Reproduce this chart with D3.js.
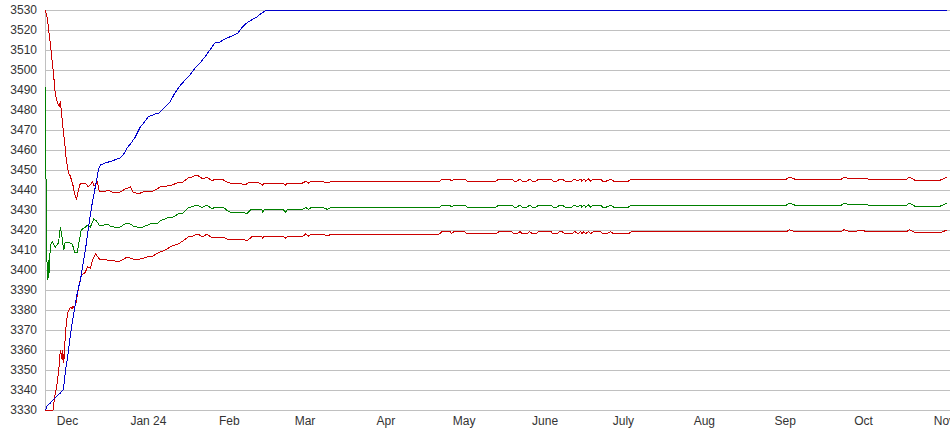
<!DOCTYPE html>
<html><head><meta charset="utf-8">
<script src="https://cdn.jsdelivr.net/npm/d3@7"></script>
<style>
body{margin:0;background:#fff}
svg{display:block}
text{font-family:Arial,"Liberation Sans",sans-serif;font-size:12px;fill:#333}
</style>
</head><body>
<svg id="chart" width="950" height="435"></svg>
<script>
// ---- data ----
const originDate = new Date(2023, 10, 22, 18); // day 0 of the series
const yTicks = [3330,3340,3350,3360,3370,3380,3390,3400,3410,3420,3430,3440,3450,3460,3470,3480,3490,3500,3510,3520,3530];
const monthLabels = ["Dec","Jan 24","Feb","Mar","Apr","May","June","July","Aug","Sep","Oct","Nov"];
const monthDates = ["2023-12-01","2024-01-01","2024-02-01","2024-03-01","2024-04-01","2024-05-01","2024-06-01","2024-07-01","2024-08-01","2024-09-01","2024-10-01","2024-11-01"];

// [day since origin, value]
const blueSeries = [[0,3330],[0.6,3332],[1.9,3333.5],[3.2,3335.5],[4.5,3337],[5.7,3338.5],[6.8,3340],[7.3,3345],[7.7,3350],[8.5,3356.5],[9.3,3365],[10.2,3373.5],[11.1,3380],[11.8,3386],[12.7,3391.5],[13.4,3395],[15.3,3410],[16.5,3421.5],[17.8,3432.5],[19.1,3441.5],[20.3,3450],[21.0,3452.5],[22.9,3453.5],[25.4,3454.5],[28.6,3456],[29.8,3457.5],[31.3,3461],[33.1,3464],[34.4,3466.5],[36.3,3471.5],[37.4,3473],[39.3,3476.5],[42.0,3478],[43.5,3478.5],[45.8,3481.5],[47.7,3484],[49.6,3488.5],[51.5,3492],[53.5,3495],[55.4,3497.5],[57.3,3501],[59.2,3503.5],[61.1,3506.5],[63.0,3510],[64.9,3513.5],[66.8,3514],[68.7,3515.5],[71.4,3517],[73.7,3518.5],[75.2,3521],[77.1,3523.5],[79.0,3525],[81.0,3526.5],[82.9,3528.5],[84.8,3530],[345.5,3530]];

const upperRed = [[0,3530],[0.8,3525],[1.9,3512.5],[3.05,3498.5],[3.8,3487.5],[4.6,3483.5],[5.35,3482],[5.7,3484.5],[6.1,3479],[6.9,3468.5],[7.3,3465],[7.6,3460],[8.0,3455],[8.8,3448.5],[9.5,3447],[10.3,3443.5],[10.7,3441.5],[11.1,3438.5],[11.5,3437],[11.9,3435],[12.6,3440],[13.4,3443.5],[15.3,3443.5],[16.4,3441.5],[18.0,3444],[18.7,3442],[19.9,3444],[20.6,3439.5],[22.1,3439],[24.1,3440],[25.6,3439],[27.5,3438.5],[28.6,3439],[30.6,3440.5],[32.5,3441.5],[33.6,3439],[35.5,3438],[37.4,3439],[39.3,3439.5],[41.2,3439.5],[42.8,3440.5],[43.9,3441.5],[46.6,3442],[48.5,3442.5],[50.4,3443.5],[52.7,3444],[54.6,3446],[56.1,3446.5],[58.0,3447.5],[59.2,3446.5],[60.3,3445.5],[61.9,3446.5],[63.8,3444.5],[64.9,3445.5],[67.6,3445.5],[69.5,3444],[70.6,3443.5],[74.5,3443.5],[76.4,3442.5],[78.3,3444],[81.3,3444],[83.2,3442.5],[84.0,3443.5],[90.9,3443.5],[92.0,3442.5],[92.8,3443.5],[98.5,3443.5],[99.7,3444.3],[100.8,3443.5],[101.9,3444.3],[106.1,3444.3],[108.1,3443.5],[109.6,3444.3],[150.9,3444.3],[152.0,3445.5],[155.0,3445.5],[155.5,3444.5],[156.6,3445.5],[160.4,3445.5],[161.6,3444.5],[172.6,3444.5],[173.8,3445.5],[178.7,3445.5],[179.5,3444.5],[180.7,3444.5],[181.8,3445.5],[182.6,3444.5],[184.5,3444.5],[185.6,3445.5],[186.4,3444.5],[187.9,3444.5],[189.1,3445.5],[193.7,3445.5],[194.4,3444.5],[196.0,3444.5],[197.1,3445.5],[197.9,3445.5],[199.0,3444.5],[201.7,3444.5],[202.8,3445.5],[204.0,3444.5],[205.1,3445.5],[205.5,3444.5],[206.3,3445.5],[207.0,3444.5],[208.1,3445.5],[208.9,3444.5],[210.0,3445.5],[212.7,3445.5],[213.5,3444.5],[215.0,3444.5],[216.6,3445.5],[217.6,3444.5],[223.4,3444.5],[224.5,3445.5],[284,3445.5],[285,3446.5],[287,3445.5],[305,3445.5],[306,3446.5],[308,3445.5],[313,3446],[315,3445.5],[330,3445.5],[331,3446.5],[333,3445],[343,3445],[345.5,3446.5]];

const greenSeries = [[0,3491.5],[0.05,3467],[0.4,3420],[0.7,3395],[1.0,3405],[1.3,3396],[1.5,3405],[2.0,3412.5],[2.6,3414],[3.8,3411.5],[5.0,3413.5],[5.7,3421.7],[6.4,3416],[7.0,3410],[7.6,3414],[9.5,3413.5],[10.3,3413],[11.1,3409],[12.2,3409],[12.8,3413.5],[13.7,3420],[15.3,3421.5],[16.2,3422.5],[17.2,3421.5],[18.5,3425.5],[19.5,3424.5],[20.6,3422.5],[22.5,3422.5],[23.7,3423],[24.8,3422],[27.5,3421],[28.6,3421.5],[31.0,3423.5],[32.5,3423],[33.6,3422],[36.3,3421],[38.2,3422],[40.1,3423],[42.0,3423.5],[42.8,3423],[43.9,3424.5],[46.6,3426],[48.9,3426.5],[50.8,3428],[52.7,3428.5],[54.6,3431],[58.0,3432.5],[59.6,3431.5],[60.3,3431.5],[61.9,3432.5],[63.8,3430.5],[64.9,3431.5],[68.0,3431.5],[69.9,3429.5],[70.6,3429],[75.6,3429],[77.1,3428],[79.0,3430.5],[82.9,3430.5],[83.2,3429],[84.0,3430.5],[90.9,3430.5],[92.0,3429],[92.8,3430.3],[98.5,3430.3],[99.7,3431.3],[100.8,3430.3],[101.9,3431.3],[106.1,3431.3],[108.1,3430.3],[109.6,3431.3],[150.9,3431.3],[152.0,3432.5],[155.0,3432.5],[155.5,3431.5],[156.6,3432.5],[160.4,3432.5],[161.6,3431.5],[172.6,3431.5],[173.8,3432.5],[178.7,3432.5],[179.5,3431.5],[180.7,3431.5],[181.8,3432.5],[182.6,3431.5],[184.5,3431.5],[185.6,3432.5],[186.4,3431.5],[187.9,3431.5],[189.1,3432.5],[193.7,3432.5],[194.4,3431.5],[196.0,3431.5],[197.1,3432.5],[197.9,3432.5],[199.0,3431.5],[201.7,3431.5],[202.8,3432.5],[204.0,3431.5],[205.1,3432.5],[205.5,3431.5],[206.3,3432.5],[207.0,3431.5],[208.1,3432.5],[208.9,3431.5],[210.0,3432.5],[212.7,3432.5],[213.5,3431.5],[215.0,3431.5],[216.6,3432.5],[217.6,3431.5],[223.4,3431.5],[224.5,3432.5],[284,3432.5],[285,3433.5],[287,3432.5],[305,3432.5],[306,3433.5],[308,3432.5],[313,3433],[315,3432.5],[330,3432.5],[331,3433.5],[333,3432],[343,3432],[345.5,3433.5]];

const lowerRed = [[0,3330],[2.9,3330],[3.2,3333.5],[3.8,3338.5],[4.5,3343.5],[5.1,3350],[5.7,3360],[6.1,3357.5],[6.4,3355],[6.6,3360],[7.0,3353.5],[7.25,3358],[7.6,3367.5],[8.0,3373.5],[8.5,3378.5],[9.3,3381],[9.8,3381.5],[10.2,3380.5],[10.6,3382],[11.1,3381],[11.8,3384],[12.3,3388.5],[12.7,3391.5],[13.7,3397],[15.3,3399],[16.1,3401.5],[17.2,3401],[18.3,3406],[19.2,3408],[20.1,3406.5],[21.0,3405],[22.9,3405.5],[24.1,3404.5],[25.6,3405],[27.7,3404],[29.4,3405],[31.3,3406.5],[32.5,3406],[33.6,3405.5],[36.3,3405.5],[39.0,3406.5],[41.2,3407],[43.1,3408.5],[45.8,3410],[48.5,3412],[50.8,3413],[52.7,3414.5],[54.6,3416.5],[56.5,3417],[58.4,3418],[60.3,3416.5],[61.9,3418],[63.8,3416],[64.9,3416.5],[68.0,3416.5],[69.5,3415.5],[75.6,3415.5],[77.1,3414.5],[79.0,3416.5],[82.9,3416.8],[83.2,3416],[84.0,3417],[90.9,3417],[92.0,3416],[92.8,3416.7],[98.5,3416.7],[99.7,3418],[100.8,3417],[101.9,3418],[106.1,3418],[108.1,3417],[109.6,3418],[150.9,3418],[152.0,3419.2],[155.0,3419.2],[155.5,3418.2],[156.6,3419.2],[160.4,3419.2],[161.6,3418.2],[172.6,3418.2],[173.8,3419.2],[178.7,3419.2],[179.5,3418.2],[180.7,3418.2],[181.8,3419.2],[182.6,3418.2],[184.5,3418.2],[185.6,3419.2],[186.4,3418.2],[187.9,3418.2],[189.1,3419.2],[193.7,3419.2],[194.4,3418.2],[196.0,3418.2],[197.1,3419.2],[197.9,3419.2],[199.0,3418.2],[201.7,3418.2],[202.8,3419.2],[204.0,3418.2],[205.1,3419.2],[205.5,3418.2],[206.3,3419.2],[207.0,3418.2],[208.1,3419.2],[208.9,3418.2],[210.0,3419.2],[212.7,3419.2],[213.5,3418.2],[215.0,3418.2],[216.6,3419.2],[217.6,3418.2],[223.4,3418.2],[224.5,3419.2],[284,3419.2],[285,3420.2],[287,3419.2],[305,3419.2],[306,3420.2],[308,3419.2],[313,3419.7],[315,3419.2],[330,3419.2],[331,3420.2],[333,3418.8],[343,3418.8],[345.5,3420]];

// ---- chart ----
const svg = d3.select("#chart");
const parse = d3.timeParse("%Y-%m-%d");
const x = d3.scaleTime()
  .domain([parse("2023-12-01"), parse("2024-10-01")])
  .range([67, 863]);
const y = d3.scaleLinear().domain([3330, 3530]).range([410, 10]);
const left = 45, right = 950;

// gridlines
svg.append("g").selectAll("line").data(yTicks).join("line")
  .attr("x1", left).attr("x2", right)
  .attr("y1", d => y(d)).attr("y2", d => y(d))
  .attr("stroke", "#c0c0c0").attr("stroke-width", 1)
  .attr("shape-rendering", "crispEdges");
// left axis line
svg.append("line").attr("x1", left).attr("x2", left).attr("y1", y(3530)).attr("y2", y(3330))
  .attr("stroke", "#c0c0c0").attr("shape-rendering", "crispEdges");

// y labels
const yAxis = d3.axisLeft(y).tickValues(yTicks).tickSize(0).tickPadding(0).tickFormat(d3.format("d"));
const gy = svg.append("g").attr("transform", "translate(37,0)").call(yAxis);
gy.select(".domain").remove();
gy.selectAll("text").attr("font-size", 12).attr("font-family", "Arial, 'Liberation Sans', sans-serif").attr("fill", "#222");

// x labels
const xDates = monthDates.map(parse);
const xAxis = d3.axisBottom(x).tickValues(xDates).tickSize(0).tickPadding(0)
  .tickFormat((d, i) => monthLabels[i]);
const gx = svg.append("g").attr("transform", "translate(0,416.5)").call(xAxis);
gx.select(".domain").remove();
gx.selectAll("text").attr("font-size", 12).attr("font-family", "Arial, 'Liberation Sans', sans-serif").attr("fill", "#222");

// lines
const toDate = d => new Date(originDate.getTime() + d * 86400000);
const line = d3.line().x(d => x(toDate(d[0]))).y(d => y(d[1]));
const series = [
  {data: greenSeries, color: "#008000"},
  {data: lowerRed, color: "#cc0000"},
  {data: upperRed, color: "#cc0000"},
  {data: blueSeries, color: "#0000cc"}
];
svg.append("g").selectAll("path").data(series).join("path")
  .attr("d", s => line(s.data))
  .attr("fill", "none")
  .attr("stroke", s => s.color)
  .attr("stroke-width", 1)
  .attr("shape-rendering", "crispEdges");
</script>
</body></html>
